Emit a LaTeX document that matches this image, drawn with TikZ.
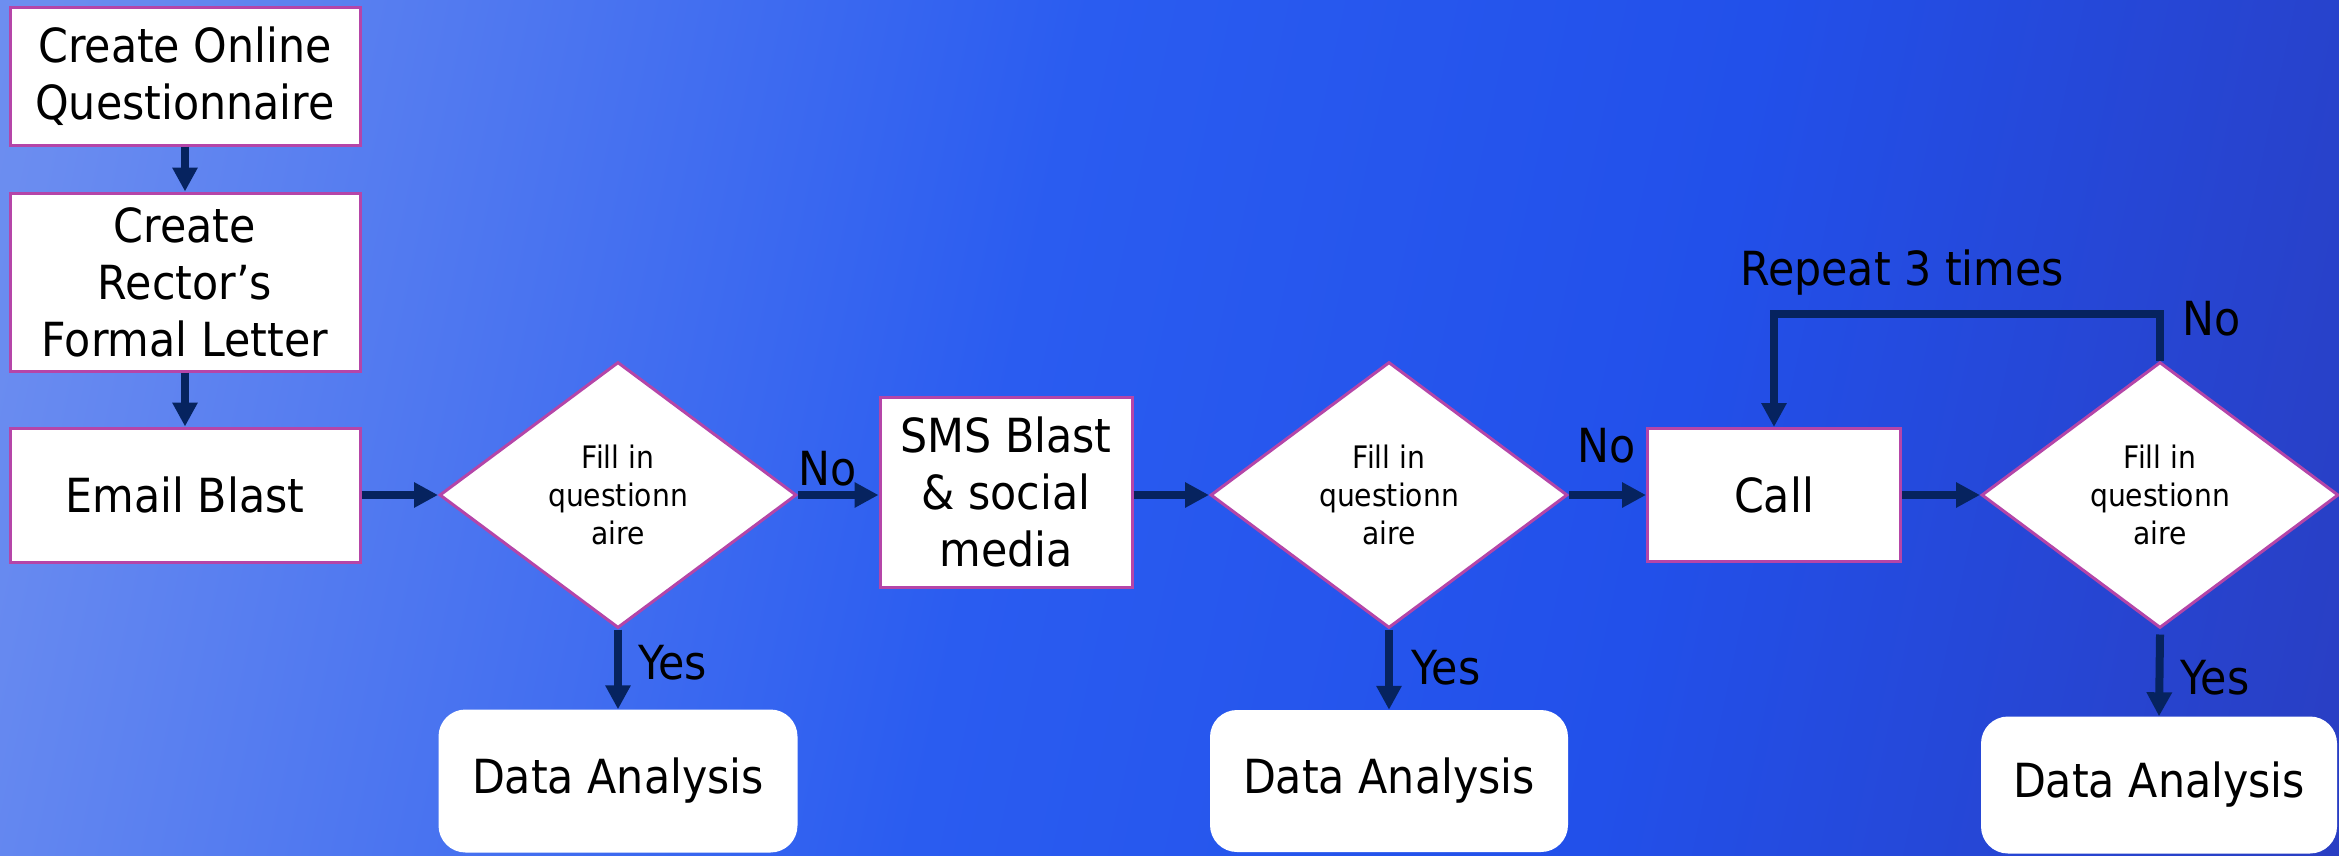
\documentclass[tikz,border=0pt]{standalone}
\usepackage{fontspec}
\setmainfont{DejaVu Sans}[FakeStretch=0.91]
\usetikzlibrary{arrows.meta,shapes.geometric,calc}
\definecolor{arrowblue}{HTML}{06235F}
\definecolor{edgepink}{HTML}{B545A8}
\definecolor{bgA}{HTML}{8CA4EE}
\definecolor{bgB}{HTML}{6A8CF0}
\definecolor{bgC}{HTML}{2A5CF0}
\definecolor{bgD}{HTML}{2250EA}
\definecolor{bgE}{HTML}{2A3CBE}
\definecolor{bgF}{HTML}{3A2A88}
\pgfdeclarehorizontalshading{bgshade}{100bp}{color(0bp)=(bgA); color(22bp)=(bgB); color(46bp)=(bgC); color(62bp)=(bgD); color(82bp)=(bgE); color(100bp)=(bgF)}
\begin{document}
\begin{tikzpicture}[x=1pt,y=-1pt,
  boxnode/.style={draw=edgepink, line width=3pt, fill=white, inner sep=0pt, align=center, font=\fontsize{47}{57}\selectfont},
  dianode/.style={diamond, draw=edgepink, line width=3pt, fill=white, inner sep=0pt, minimum width=357pt, minimum height=266pt, align=center, font=\fontsize{31}{38}\selectfont},
  danode/.style={rounded corners=27pt, fill=white, inner sep=0pt, align=center, font=\fontsize{47}{57}\selectfont},
  lbl/.style={inner sep=0pt, anchor=base west, font=\fontsize{47}{57}\selectfont},
  arr/.style={draw=arrowblue, line width=8pt, -{Triangle[length=24pt,width=24pt]}}
]
\shade[shading=bgshade, shading angle=-12] (0,0) rectangle (2339,855);
\useasboundingbox (0,0) rectangle (2339,855);

\node[boxnode, minimum width=350pt, minimum height=138pt] (b1) at (185,76) {Create Online\\Questionnaire};
\node[boxnode, minimum width=350pt, minimum height=178pt] (b2) at (185,282) {Create\\Rector’s\\Formal Letter};
\node[boxnode, minimum width=350pt, minimum height=134pt] (b3) at (185,495) {Email Blast};
\node[dianode] (d1) at (618,495) {Fill in\\questionn\\aire};
\node[boxnode, minimum width=252pt, minimum height=190pt] (sms) at (1006,492) {SMS Blast\\\& social\\media};
\node[dianode] (d2) at (1389,495) {Fill in\\questionn\\aire};
\node[boxnode, minimum width=253pt, minimum height=133pt] (call) at (1774,495) {Call};
\node[dianode] (d3) at (2160,495) {Fill in\\questionn\\aire};
\node[danode, minimum width=359pt, minimum height=143pt] (da1) at (618,781) {Data Analysis};
\node[danode, minimum width=358pt, minimum height=142pt] (da2) at (1389,781) {Data Analysis};
\node[danode, minimum width=356pt, minimum height=137pt] (da3) at (2159,785) {Data Analysis};

\draw[arr] (b1.south) -- (b2.north);
\draw[arr] (b2.south) -- (b3.north);
\draw[arr] (b3.east) -- (d1.west);
\draw[arr] (d1.east) -- (d1.east -| sms.west);
\draw[arr] (sms.east |- d2.west) -- (d2.west);
\draw[arr] (d2.east) -- (call.west);
\draw[arr] (call.east) -- (d3.west);
\draw[arr] (d1.south) -- (da1.north);
\draw[arr] (d2.south) -- (da2.north);
\draw[arr] ([yshift=-5pt]d3.south) -- (da3.north);
\coordinate (looptop) at (1775,314);
\draw[arr] (d3.north) -- (d3.north |- looptop) -- (call.north |- looptop) -- (call.north);

\node[lbl] (no1) at ($(d1.east)+(0,-10)$) {No};
\node[lbl] (no2) at ($(d2.east)+(8,-33)$) {No};
\node[lbl] (no3) at ($(d3.north)+(22,-25)$) {No};
\node[lbl] (yes1) at ($(d1.south)+(20,50)$) {Yes};
\node[lbl] (yes2) at ($(d2.south)+(22,55)$) {Yes};
\node[lbl] (yes3) at ($(d3.south)+(20,65)$) {Yes};
\node[lbl] (rep) at (1740,285) {Repeat 3 times};
\end{tikzpicture}
\end{document}
